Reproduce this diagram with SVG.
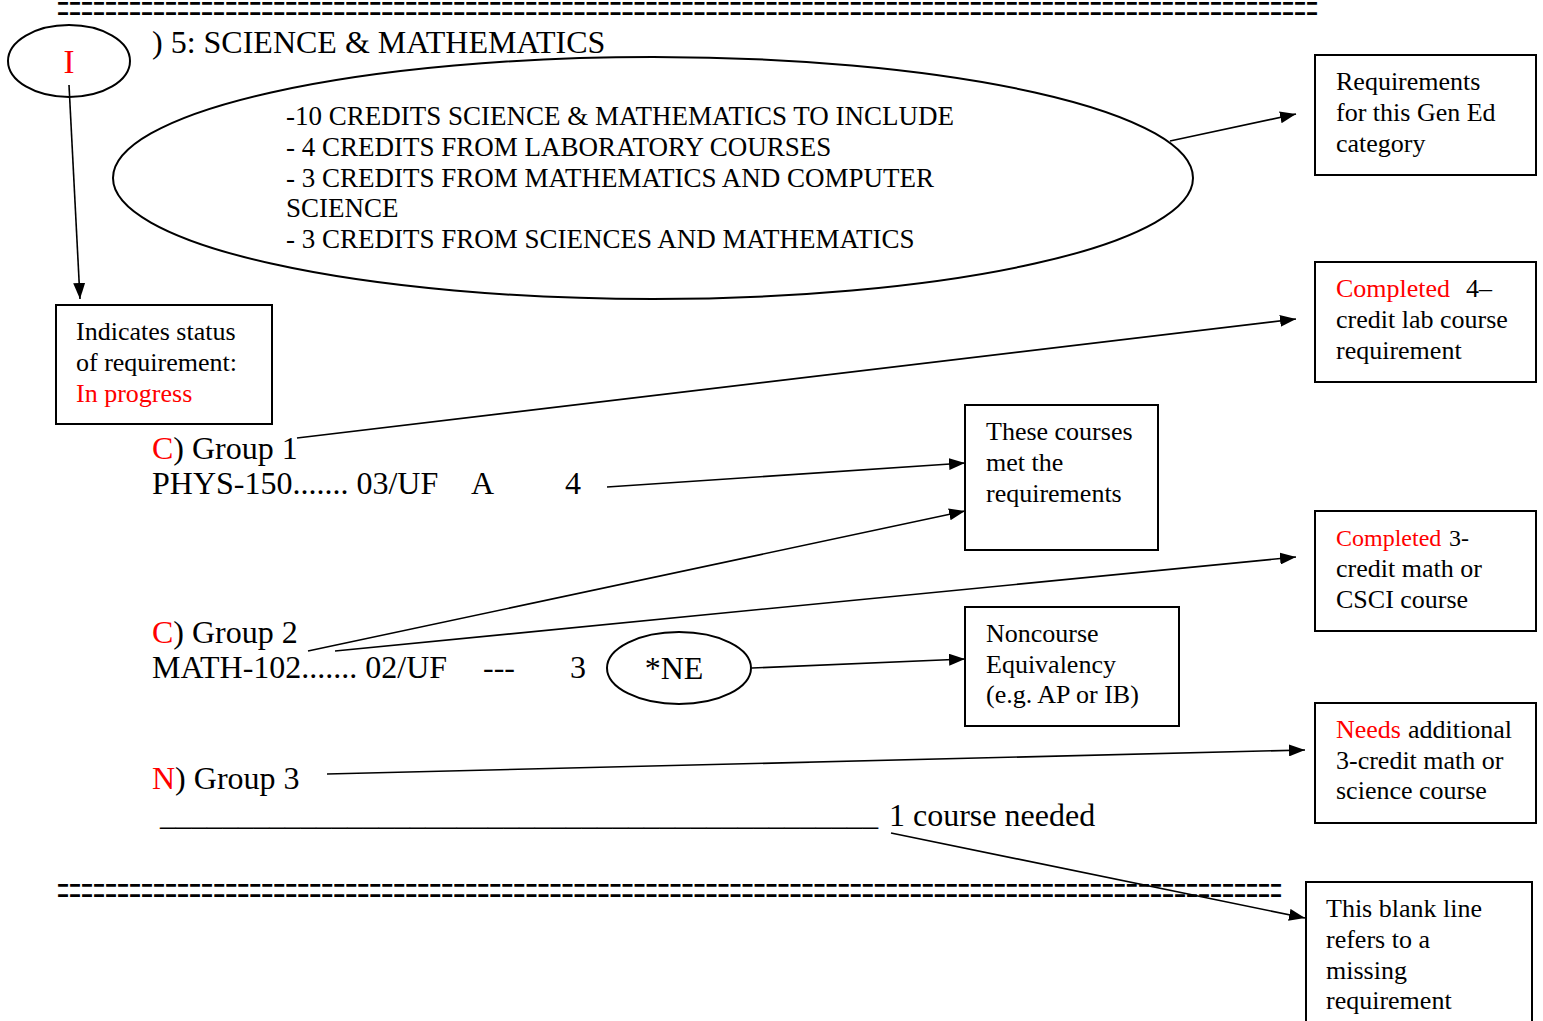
<svg xmlns="http://www.w3.org/2000/svg" width="1543" height="1021" viewBox="0 0 1543 1021">
<style>
text{font-family:"Liberation Serif","Times New Roman",serif;fill:#000}
.b{font-size:26px}
.m{font-size:32px}
.r{fill:#ff0000}
.box{fill:#fff;stroke:#000;stroke-width:2}
.ell{fill:none;stroke:#000;stroke-width:2}
.eq{font-size:21.3px}
.c{fill:none;stroke:#000;stroke-width:1.6}
</style>
<defs>
<marker id="ah" markerUnits="userSpaceOnUse" markerWidth="17" markerHeight="12" refX="16" refY="6" orient="auto">
<path d="M0,0 L16,6 L0,12 z" fill="#000"/>
</marker>
</defs>
<rect width="1543" height="1021" fill="#fff"/>

<text class="eq" x="57" y="0" transform="translate(0,26) scale(1,2.44)" textLength="1261" lengthAdjust="spacingAndGlyphs">=========================================================================================================</text>
<text class="eq" x="57" y="0" transform="translate(0,908) scale(1,2.44)" textLength="1225" lengthAdjust="spacingAndGlyphs">======================================================================================================</text>

<g id="status-circle">
<ellipse class="ell" cx="69" cy="61" rx="61" ry="36"/>
<text class="r" x="69" y="73" font-size="33" text-anchor="middle">I</text>
</g>
<text class="m" x="152" y="53">) 5: SCIENCE &amp; MATHEMATICS</text>

<g id="req-ellipse">
<ellipse class="ell" cx="653" cy="178" rx="540" ry="121"/>
<text font-size="27"><tspan x="286" y="125">-10 CREDITS SCIENCE &amp; MATHEMATICS TO INCLUDE</tspan><tspan x="286" y="156">- 4 CREDITS FROM LABORATORY COURSES</tspan><tspan x="286" y="187">- 3 CREDITS FROM MATHEMATICS AND COMPUTER</tspan><tspan x="286" y="217">SCIENCE</tspan><tspan x="286" y="248">- 3 CREDITS FROM SCIENCES AND MATHEMATICS</tspan></text>
</g>

<g id="box-status">
<rect class="box" x="56" y="305" width="216" height="119"/>
<text class="b"><tspan x="76" y="340">Indicates status</tspan><tspan x="76" y="371">of requirement:</tspan><tspan x="76" y="402" class="r">In progress</tspan></text>
</g>

<g id="box-gened">
<rect class="box" x="1315" y="55" width="221" height="120"/>
<text class="b"><tspan x="1336" y="90">Requirements</tspan><tspan x="1336" y="121">for this Gen Ed</tspan><tspan x="1336" y="152">category</tspan></text>
</g>

<g id="box-lab">
<rect class="box" x="1315" y="262" width="221" height="120"/>
<text class="b"><tspan x="1336" y="297" class="r">Completed</tspan><tspan x="1466" y="297">4–</tspan><tspan x="1336" y="328">credit lab course</tspan><tspan x="1336" y="359">requirement</tspan></text>
</g>

<g id="group1">
<text class="m" x="152" y="459"><tspan class="r">C</tspan>) Group 1</text>
<text class="m" x="152" y="494">PHYS-150....... 03/UF</text>
<text class="m" x="471" y="494">A</text>
<text class="m" x="565" y="494">4</text>
</g>

<g id="box-met">
<rect class="box" x="965" y="405" width="193" height="145"/>
<text class="b"><tspan x="986" y="440">These courses</tspan><tspan x="986" y="471">met the</tspan><tspan x="986" y="502">requirements</tspan></text>
</g>

<g id="box-math">
<rect class="box" x="1315" y="511" width="221" height="120"/>
<text class="b"><tspan x="1336" y="546" font-size="24" class="r">Completed</tspan><tspan x="1449" y="546" font-size="24">3-</tspan><tspan x="1336" y="577">credit math or</tspan><tspan x="1336" y="608">CSCI course</tspan></text>
</g>

<g id="group2">
<text class="m" x="152" y="643"><tspan class="r">C</tspan>) Group 2</text>
<text class="m" x="152" y="678">MATH-102....... 02/UF</text>
<text class="m" x="483" y="678">---</text>
<text class="m" x="570" y="678">3</text>
</g>

<g id="ne-ellipse">
<ellipse class="ell" cx="679" cy="668" rx="72" ry="36"/>
<text class="m" x="674" y="679" text-anchor="middle">*NE</text>
</g>

<g id="box-noncourse">
<rect class="box" x="965" y="607" width="214" height="119"/>
<text class="b"><tspan x="986" y="642">Noncourse</tspan><tspan x="986" y="673">Equivalency</tspan><tspan x="986" y="703">(e.g. AP or IB)</tspan></text>
</g>

<g id="group3">
<text class="m" x="152" y="789"><tspan class="r">N</tspan>) Group 3</text>
</g>

<g id="box-needs">
<rect class="box" x="1315" y="703" width="221" height="120"/>
<text class="b"><tspan x="1336" y="738" class="r">Needs</tspan><tspan x="1408" y="738">additional</tspan><tspan x="1336" y="769">3-credit math or</tspan><tspan x="1336" y="799">science course</tspan></text>
</g>

<g id="blank-line">
<text class="m" x="160" y="825" textLength="718" lengthAdjust="spacingAndGlyphs">______________________________________________</text>
<text class="m" x="889" y="826">1 course needed</text>
</g>

<g id="box-blank">
<rect class="box" x="1306" y="882" width="226" height="145"/>
<text class="b"><tspan x="1326" y="917">This blank line</tspan><tspan x="1326" y="948">refers to a</tspan><tspan x="1326" y="979">missing</tspan><tspan x="1326" y="1009">requirement</tspan></text>
</g>

<g id="connectors">
<line class="c" x1="69" y1="85" x2="80" y2="299" marker-end="url(#ah)"/>
<line class="c" x1="1170" y1="141" x2="1296" y2="114" marker-end="url(#ah)"/>
<line class="c" x1="297" y1="438" x2="1296" y2="319" marker-end="url(#ah)"/>
<line class="c" x1="607" y1="487" x2="965" y2="463" marker-end="url(#ah)"/>
<line class="c" x1="308" y1="651" x2="965" y2="511" marker-end="url(#ah)"/>
<line class="c" x1="335" y1="651" x2="1296" y2="557" marker-end="url(#ah)"/>
<line class="c" x1="752" y1="668" x2="965" y2="659" marker-end="url(#ah)"/>
<line class="c" x1="327" y1="774" x2="1305" y2="750" marker-end="url(#ah)"/>
<line class="c" x1="891" y1="833" x2="1305" y2="918" marker-end="url(#ah)"/>
</g>
</svg>
